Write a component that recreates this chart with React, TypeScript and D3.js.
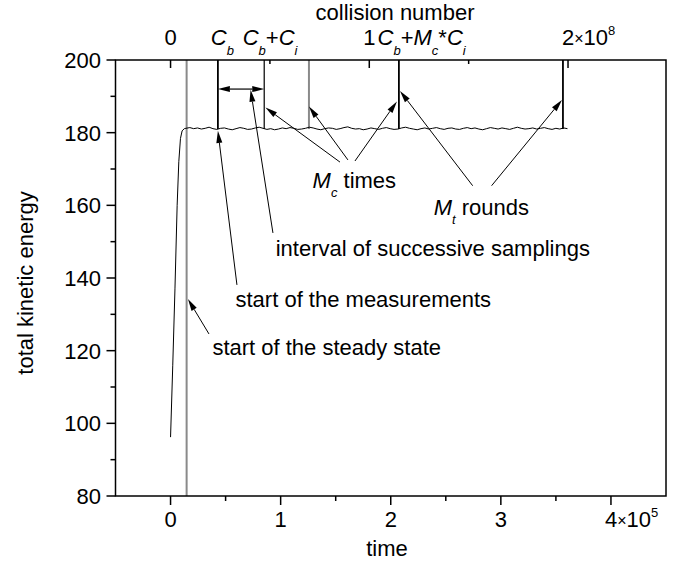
import React from 'react';
import * as d3 from 'd3';

// ---------- data ----------
const xTicksMajor = [0, 1, 2, 3];
const xTickLabels = ['0', '1', '2', '3'];
const xLastTick = 4;
const xLastMantissa = '4';
const xExponent = '5';
const xTicksMinor = [0.5, 1.5, 2.5, 3.5];
const yTicksMajor = [80, 100, 120, 140, 160, 180, 200];
const yTicksMinor = [90, 110, 130, 150, 170, 190];
const topTicksMajor = [0, 1];
const topTickLabels = ['0', '1'];
const topLastTick = 2;
const topLastMantissa = '2';
const topExponent = '8';
const topTicksMinor = [0.5, 1.5];
const collisionsPerTime = 0.554; // 1e8 collisions per 1e5 time units

const rampTime = [0, 0.02, 0.04, 0.06, 0.075, 0.09, 0.105, 0.125];
const rampEnergy = [96.2, 116, 137, 160, 172, 178.4, 180.5, 181.1];
const steadyStart = 0.14;
const steadyStep = 0.035;
const steadyEnergy = [
  181.2, 181.4, 181.1, 181.3, 181.0, 181.2, 181.5, 181.1, 180.9, 181.2,
  181.3, 181.0, 180.8, 181.1, 181.4, 181.2, 180.9, 181.0, 181.3, 181.5,
  181.2, 180.9, 181.1, 180.8, 181.0, 181.3, 181.1, 181.4, 181.2, 180.9,
  181.0, 181.2, 181.5, 181.3, 181.0, 180.8, 181.1, 181.3, 181.2, 180.9,
  181.1, 181.4, 181.6, 181.2, 181.0, 181.1, 180.8, 181.0, 181.3, 181.1,
  180.9, 181.2, 181.4, 181.1, 180.9, 181.0, 181.3, 181.5, 181.2, 181.0,
  180.8, 181.1, 181.3, 181.0, 181.2, 181.4, 181.1, 180.9, 181.2, 181.3,
  181.0, 180.9, 181.2, 181.4, 181.1, 181.3, 181.0, 180.8, 181.1, 181.4,
  181.2, 181.0, 181.3, 181.1, 180.9, 181.2, 181.5, 181.2, 181.0, 181.1,
  181.3, 181.0, 181.2, 181.4, 181.1, 180.9, 181.2, 181.0, 181.3, 181.1,
];

const steadyStateTime = 0.146;
const markerTimes = [0.43, 0.851, 1.257, 2.074, 3.564];
const markerEnd = 181;
const intervalArrow = { t0: 0.43, t1: 0.851, e: 192 };

const arrowFrom = [
  [0.93, 152.4], [0.603, 138.1], [0.349, 124.6],
  [1.539, 171.9], [1.611, 172.5], [1.675, 172.2],
  [2.744, 165.4], [2.916, 165.4],
];
const arrowTo = [
  [0.727, 191.8], [0.43, 180.5], [0.158, 134.2],
  [0.862, 186.9], [1.257, 187.2], [2.056, 188.6],
  [2.084, 191.5], [3.555, 189.0],
];

const noteTexts = ['interval of successive samplings', 'start of the measurements', 'start of the steady state'];
const notePos = [[0.955, 146.1], [0.59, 132.0], [0.38, 118.8]];

// ---------- layout ----------
const W = 677, H = 564;
const L = 115.5, R = 666, T = 60, B = 496;
const FONT = 'Liberation Sans, Arial, Helvetica, sans-serif';
const FS = 22;
const SUB = 13;

const x = d3.scaleLinear().domain([-0.5, 4.5]).range([L, R]);
const y = d3.scaleLinear().domain([80, 200]).range([B, T]);
const xTop = d3.scaleLinear().domain([-0.5 * collisionsPerTime, 4.5 * collisionsPerTime]).range([L, R]);

function arrowHead(x1: number, y1: number, x2: number, y2: number, len = 12, hw = 3) {
  const dx = x2 - x1, dy = y2 - y1;
  const d = Math.hypot(dx, dy);
  const ux = dx / d, uy = dy / d;
  const bx = x2 - ux * len, by = y2 - uy * len;
  const px = -uy * hw, py = ux * hw;
  return {
    pts: `${x2},${y2} ${bx + px},${by + py} ${bx - px},${by - py}`,
    bx, by,
  };
}

function Arrow({ x1, y1, x2, y2 }: { x1: number; y1: number; x2: number; y2: number }) {
  const h = arrowHead(x1, y1, x2, y2);
  return (
    <g>
      <line x1={x1} y1={y1} x2={h.bx} y2={h.by} stroke="#000" strokeWidth={1} />
      <polygon points={h.pts} fill="#000" />
    </g>
  );
}

export default function App() {
  const curvePts: [number, number][] = [];
  rampTime.forEach((t, i) => curvePts.push([t, rampEnergy[i]]));
  steadyEnergy.forEach((e, i) => curvePts.push([steadyStart + i * steadyStep, e]));
  const line = d3.line<[number, number]>().x(d => x(d[0])).y(d => y(d[1]));

  const markerColor = ['#000', '#222', '#8a8a8a', '#000', '#000'];
  const markerWidth = [1.8, 1.4, 2, 1.8, 1.8];

  const ix0 = x(intervalArrow.t0), ix1 = x(intervalArrow.t1), iy = y(intervalArrow.e);
  const hL = arrowHead(ix1, iy, ix0, iy);
  const hR = arrowHead(ix0, iy, ix1, iy);

  return (
    <svg width={W} height={H} style={{ position: 'absolute', left: 0, top: 0, background: '#fff' }}
      fontFamily={FONT} fontSize={FS}>
      <rect x={0} y={0} width={W} height={H} fill="#fff" />

      {/* steady state line */}
      <line x1={x(steadyStateTime)} x2={x(steadyStateTime)} y1={y(200)} y2={y(80)} stroke="#8a8a8a" strokeWidth={2} />

      {/* marker lines */}
      {markerTimes.map((t, i) => (
        <line key={i} x1={x(t)} x2={x(t)} y1={y(200)} y2={y(markerEnd)} stroke={markerColor[i]} strokeWidth={markerWidth[i]} />
      ))}

      {/* curve */}
      <path d={line(curvePts) || ''} fill="none" stroke="#000" strokeWidth={1} />

      {/* interval double arrow */}
      <line x1={hL.bx} x2={hR.bx} y1={iy} y2={iy} stroke="#000" strokeWidth={1.2} />
      <polygon points={hL.pts} fill="#000" />
      <polygon points={hR.pts} fill="#000" />

      {/* annotation arrows */}
      {arrowFrom.map((f, i) => (
        <Arrow key={i} x1={x(f[0])} y1={y(f[1])} x2={x(arrowTo[i][0])} y2={y(arrowTo[i][1])} />
      ))}

      {/* notes */}
      {noteTexts.map((s, i) => (
        <text key={i} x={x(notePos[i][0])} y={y(notePos[i][1])}>{s}</text>
      ))}
      <text x={x(1.29)} y={y(164.8)}>
        <tspan fontStyle="italic">M</tspan>
        <tspan fontStyle="italic" fontSize={SUB} dy={9}>c</tspan>
        <tspan dy={-9}> times</tspan>
      </text>
      <text x={x(2.39)} y={y(157.3)}>
        <tspan fontStyle="italic">M</tspan>
        <tspan fontStyle="italic" fontSize={SUB} dy={9}>t</tspan>
        <tspan dy={-9}> rounds</tspan>
      </text>

      {/* frame */}
      <rect x={L} y={T} width={R - L} height={B - T} fill="none" stroke="#000" strokeWidth={1.5} />

      {/* bottom axis */}
      {[...xTicksMajor, xLastTick].map((t, i) => (
        <line key={'bx' + i} x1={x(t)} x2={x(t)} y1={B} y2={B + 9} stroke="#000" strokeWidth={1.5} />
      ))}
      {xTicksMinor.map((t, i) => (
        <line key={'bxm' + i} x1={x(t)} x2={x(t)} y1={B} y2={B + 5} stroke="#000" strokeWidth={1.5} />
      ))}
      {xTicksMajor.map((t, i) => (
        <text key={'bl' + i} x={x(t)} y={527} textAnchor="middle">{xTickLabels[i]}</text>
      ))}
      <text x={x(xLastTick) - 6} y={527}>
        {xLastMantissa}<tspan fontSize={16} dy={-1}>×</tspan><tspan dy={1}>10</tspan>
        <tspan fontSize={SUB} dy={-10}>{xExponent}</tspan>
      </text>
      <text x={387} y={556} textAnchor="middle">time</text>

      {/* left axis */}
      {yTicksMajor.map((v, i) => (
        <line key={'ly' + i} x1={L - 9} x2={L} y1={y(v)} y2={y(v)} stroke="#000" strokeWidth={1.5} />
      ))}
      {yTicksMinor.map((v, i) => (
        <line key={'lym' + i} x1={L - 5} x2={L} y1={y(v)} y2={y(v)} stroke="#000" strokeWidth={1.5} />
      ))}
      {yTicksMajor.map((v, i) => (
        <text key={'yl' + i} x={101} y={y(v) + 8} textAnchor="end">{v}</text>
      ))}
      <text transform={`translate(33,${(T + B) / 2 + 5}) rotate(-90)`} textAnchor="middle">total kinetic energy</text>

      {/* top axis */}
      {[...topTicksMajor, topLastTick].map((c, i) => (
        <line key={'tx' + i} x1={xTop(c)} x2={xTop(c)} y1={T} y2={T + 8} stroke="#000" strokeWidth={1.5} />
      ))}
      {topTicksMinor.map((c, i) => (
        <line key={'txm' + i} x1={xTop(c)} x2={xTop(c)} y1={T} y2={T + 4} stroke="#000" strokeWidth={1.5} />
      ))}
      {topTicksMajor.map((c, i) => (
        <text key={'tl' + i} x={xTop(c)} y={45} textAnchor="middle">{topTickLabels[i]}</text>
      ))}
      <text x={xTop(topLastTick) - 6} y={45}>
        {topLastMantissa}<tspan fontSize={16} dy={-1}>×</tspan><tspan dy={1}>10</tspan>
        <tspan fontSize={SUB} dy={-10}>{topExponent}</tspan>
      </text>
      <text x={395} y={20} textAnchor="middle">collision number</text>

      {/* top special labels */}
      <text x={x(0.365)} y={45}>
        <tspan fontStyle="italic">C</tspan>
        <tspan fontStyle="italic" fontSize={SUB} dy={10}>b</tspan>
      </text>
      <text x={x(0.655)} y={45}>
        <tspan fontStyle="italic">C</tspan>
        <tspan fontStyle="italic" fontSize={SUB} dy={10}>b</tspan>
        <tspan dy={-10}>+</tspan>
        <tspan fontStyle="italic">C</tspan>
        <tspan fontStyle="italic" fontSize={SUB} dy={10}>i</tspan>
      </text>
      <text x={x(1.88)} y={45}>
        <tspan fontStyle="italic">C</tspan>
        <tspan fontStyle="italic" fontSize={SUB} dy={10}>b</tspan>
        <tspan dy={-10}>+</tspan>
        <tspan fontStyle="italic">M</tspan>
        <tspan fontStyle="italic" fontSize={SUB} dy={10}>c</tspan>
        <tspan dy={-10}>*</tspan>
        <tspan fontStyle="italic">C</tspan>
        <tspan fontStyle="italic" fontSize={SUB} dy={10}>i</tspan>
      </text>
    </svg>
  );
}
